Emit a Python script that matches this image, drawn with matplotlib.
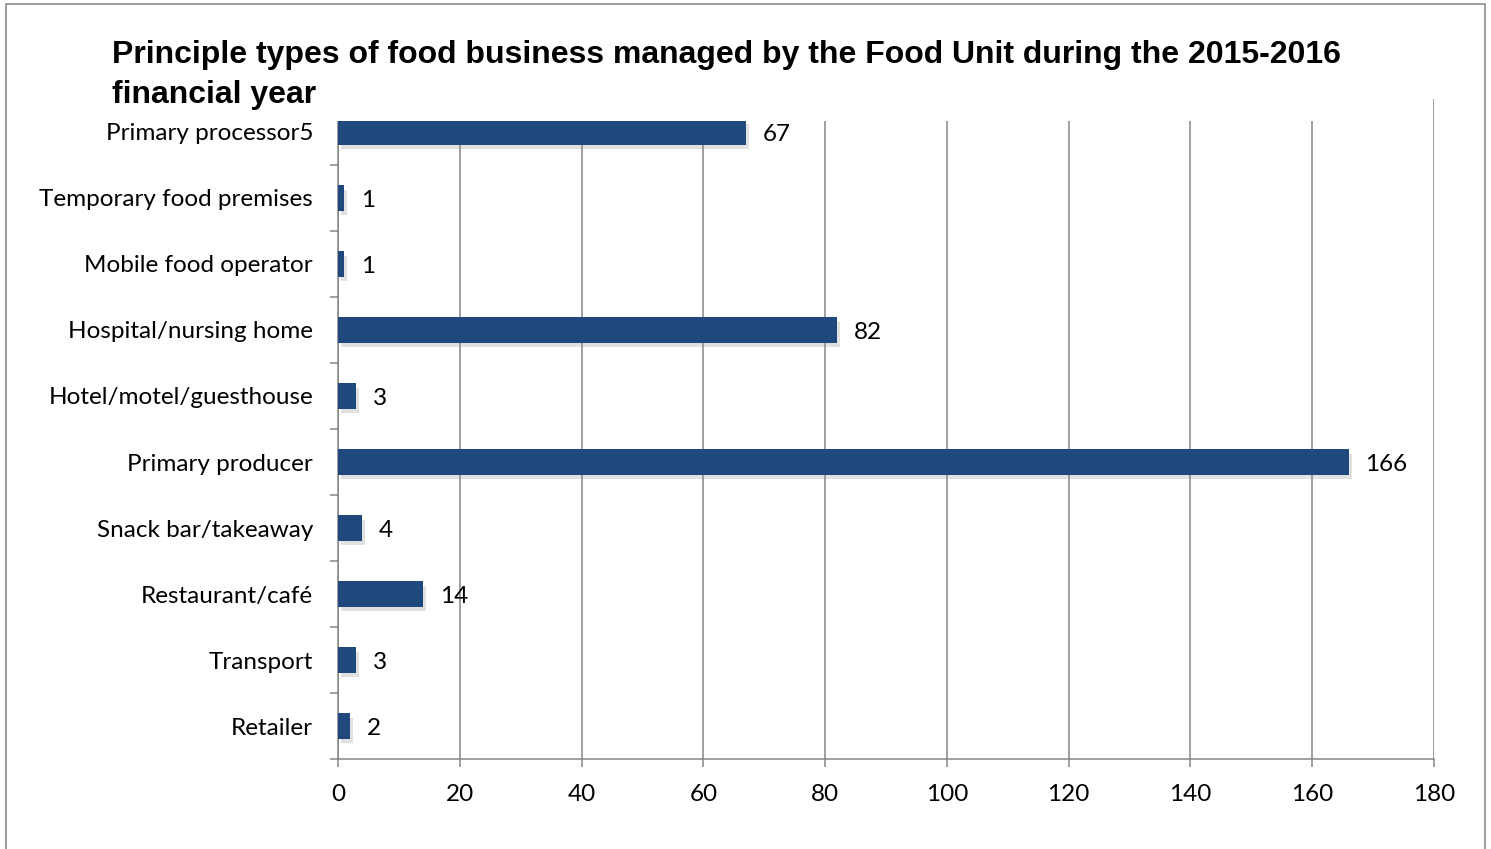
import matplotlib
matplotlib.use('Agg')
import matplotlib.pyplot as plt
import matplotlib.patheffects as pe
from matplotlib.patches import Rectangle

# data (top to bottom as shown)
categories = ['Primary processor5', 'Temporary food premises', 'Mobile food operator',
              'Hospital/nursing home', 'Hotel/motel/guesthouse', 'Primary producer',
              'Snack bar/takeaway', 'Restaurant/café', 'Transport', 'Retailer']
values = [67, 1, 1, 82, 3, 166, 4, 14, 3, 2]
xticks = [0, 20, 40, 60, 80, 100, 120, 140, 160, 180]

title = ('Principle types of food business managed by the Food Unit during the 2015-2016\n'
         'financial year')

label_font = 'Lato'
axis_grey = '#868686'
bar_blue = '#1F497D'

fig = plt.figure(figsize=(14.91, 8.49), dpi=100)
ax = fig.add_axes([0.2267, 0.106, 0.7351, 0.7774])

pos = list(range(len(categories)))
bars = ax.barh(pos, values, height=0.38, color=bar_blue, zorder=3)
for b in bars:
    b.set_path_effects([pe.SimplePatchShadow(offset=(2, -3), shadow_rgbFace='#8a8a8a', alpha=0.25),
                        pe.Normal()])

for p, v in zip(pos, values):
    ax.annotate(str(v), (v, p), xytext=(12, -2), textcoords='offset points',
                va='center', ha='left', fontsize=17.5, family=label_font, color='black')

ax.set_xlim(0, 180)
ax.set_ylim(len(categories) - 0.5, -0.5)
ax.set_xticks(xticks)
ax.set_xticklabels([str(t) for t in xticks], family=label_font, fontsize=17.5)
ax.set_yticks(pos)
ax.set_yticklabels(categories, family=label_font, fontsize=17.5)
ax.set_yticks([p - 0.5 for p in pos] + [len(pos) - 0.5], minor=True)

ax.tick_params(axis='y', which='major', length=0, pad=18)
ax.tick_params(axis='y', which='minor', length=6, width=1.1, color=axis_grey)
ax.tick_params(axis='x', length=6, width=1.1, color=axis_grey, pad=12)

ax.grid(axis='x', color=axis_grey, linewidth=1.1, zorder=0)
ax.set_axisbelow(True)
for s in ['top', 'right']:
    ax.spines[s].set_visible(False)
for s in ['left', 'bottom']:
    ax.spines[s].set_color(axis_grey)
    ax.spines[s].set_linewidth(1.1)

fig.text(0.0751, 0.953, title, fontsize=23, fontweight='bold', family='Liberation Sans',
         ha='left', va='top', linespacing=1.43, zorder=10,
         bbox=dict(facecolor='white', edgecolor='none', pad=8))

# outer frame
fig.patches.append(Rectangle((0.004, -0.01), 0.992, 1.005, transform=fig.transFigure,
                             fill=False, edgecolor='#8c8c8c', linewidth=1.2))

fig.savefig('out.png', dpi=100)
